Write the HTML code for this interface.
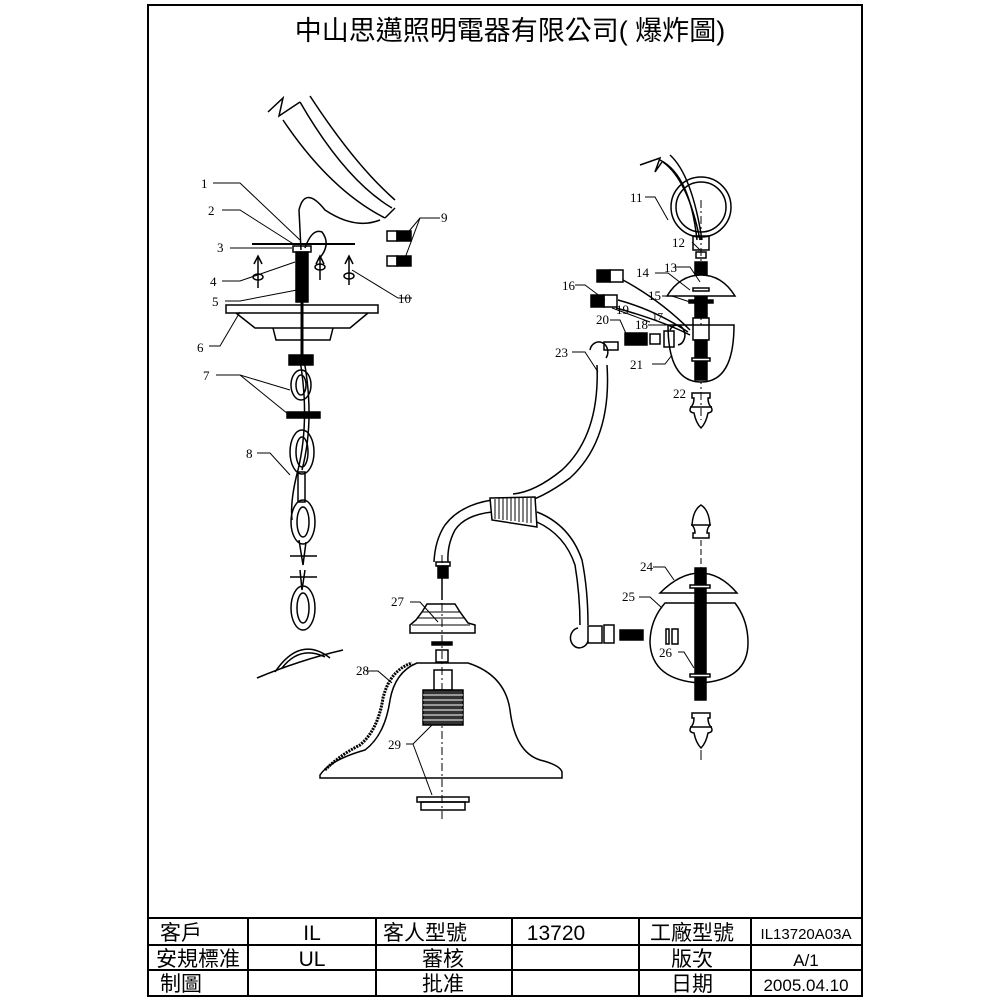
<!DOCTYPE html>
<html><head><meta charset="utf-8"><style>
html,body{margin:0;padding:0;background:#fff;}
svg{display:block;}
.t{font-family:"Liberation Serif","Noto Serif CJK SC",serif;font-size:13px;fill:#000;}
.c{font-family:"Liberation Sans","Noto Sans CJK TC",sans-serif;fill:#000;}
</style></head><body>
<svg width="1000" height="1000" viewBox="0 0 1000 1000" xmlns="http://www.w3.org/2000/svg" fill="none" stroke="#000" stroke-width="1.5">
<rect x="148" y="5" width="714" height="991" stroke-width="2"/>
<text x="510" y="40" text-anchor="middle" class="c" font-size="27" stroke="none">中山思邁照明電器有限公司( 爆炸圖)</text>
<!-- table -->
<g stroke-width="2">
<line x1="148" y1="918" x2="862" y2="918"/>
<line x1="148" y1="945" x2="862" y2="945"/>
<line x1="148" y1="970" x2="862" y2="970"/>
<line x1="248" y1="918" x2="248" y2="996"/>
<line x1="376" y1="918" x2="376" y2="996"/>
<line x1="512" y1="918" x2="512" y2="996"/>
<line x1="639" y1="918" x2="639" y2="996"/>
<line x1="751" y1="918" x2="751" y2="996"/>
</g>
<g class="c" font-size="21" stroke="none" text-anchor="middle">
<text x="181" y="940">客戶</text><text x="312" y="940">IL</text><text x="425" y="940">客人型號</text><text x="556" y="940">13720</text><text x="692" y="940">工廠型號</text>
<text x="806" y="939" font-size="15">IL13720A03A</text>
<text x="198" y="966">安規標准</text><text x="312" y="966">UL</text><text x="443" y="966">審核</text><text x="692" y="966">版次</text><text x="806" y="966" font-size="17">A/1</text>
<text x="181" y="991">制圖</text><text x="443" y="991">批准</text><text x="692" y="991">日期</text><text x="806" y="991" font-size="17">2005.04.10</text>
</g>

<!-- LEFT assembly -->
<path d="M268,112 L283,98 L279,116 L300,102"/>
<path d="M283,120 Q330,190 385,218"/>
<path d="M300,102 Q345,180 392,208"/>
<path d="M310,96 Q355,165 395,200"/>
<path d="M385,218 L395,208"/>
<path d="M301,250 L299,210 Q305,185 325,210 Q355,230 380,220"/>
<path d="M305,248 Q312,228 322,232 Q332,245 318,260"/>
<line x1="252" y1="244" x2="355" y2="244" stroke-width="2"/>
<rect x="293" y="246" width="18" height="6"/>
<rect x="296" y="252" width="12" height="50" fill="#000"/>
<line x1="302" y1="302" x2="302" y2="360" stroke-width="3"/>
<rect x="226" y="305" width="152" height="8"/>
<path d="M236,313 L255,328 L350,328 L368,313"/>
<path d="M273,328 L276,340 L330,340 L333,328"/>
<g>
<line x1="258" y1="258" x2="258" y2="288"/><path d="M254,264 L258,256 L262,264"/><ellipse cx="258" cy="277" rx="5" ry="3"/>
<line x1="320" y1="258" x2="320" y2="280"/><path d="M316,264 L320,256 L324,264"/><ellipse cx="320" cy="267" rx="5" ry="3"/>
<line x1="349" y1="258" x2="349" y2="285"/><path d="M345,264 L349,256 L353,264"/><ellipse cx="349" cy="276" rx="5" ry="3"/>
</g>
<rect x="387" y="231" width="10" height="10"/><rect x="397" y="231" width="14" height="10" fill="#000"/>
<rect x="387" y="256" width="10" height="10"/><rect x="397" y="256" width="14" height="10" fill="#000"/>
<rect x="289" y="355" width="24" height="10" fill="#000"/>
<ellipse cx="301" cy="385" rx="10" ry="15"/><ellipse cx="301" cy="385" rx="5" ry="10"/>
<rect x="287" y="412" width="33" height="6" fill="#000"/>
<path d="M300,360 Q310,420 298,470 Q290,500 292,520"/>
<path d="M304,360 Q315,420 302,470"/>
<ellipse cx="302" cy="452" rx="12" ry="22"/><ellipse cx="302" cy="452" rx="6" ry="15"/>
<rect x="298" y="472" width="7" height="30"/>
<ellipse cx="303" cy="522" rx="12" ry="22"/><ellipse cx="303" cy="522" rx="6" ry="15"/>
<path d="M299,540 L303,565 L306,542"/>
<line x1="290" y1="556" x2="317" y2="556"/><line x1="290" y1="577" x2="317" y2="577"/>
<path d="M300,570 L302,590 L305,570"/>
<ellipse cx="303" cy="608" rx="12" ry="22"/><ellipse cx="303" cy="608" rx="6" ry="15"/>
<path d="M257,678 Q300,660 343,650"/>
<path d="M275,672 Q300,635 330,658"/>
<path d="M282,668 Q300,645 325,657"/>
<g stroke-width="1">
<polyline points="213,183 240,183 300,240"/>
<polyline points="222,210 240,210 295,245"/>
<polyline points="230,248 292,248"/>
<polyline points="222,281 240,281 295,262"/>
<polyline points="225,301 240,301 297,290"/>
<polyline points="209,346 220,346 240,312"/>
<polyline points="216,375 240,375 290,390"/><line x1="240" y1="375" x2="288" y2="414"/>
<polyline points="257,453 270,453 290,475"/>
<polyline points="412,298 398,298 352,270"/>
<polyline points="440,218 420,218 405,236"/><line x1="420" y1="218" x2="405" y2="258"/>
</g>
<g class="t" stroke="none">
<text x="201" y="188">1</text><text x="208" y="215">2</text><text x="217" y="252">3</text><text x="210" y="286">4</text><text x="212" y="306">5</text><text x="197" y="352">6</text><text x="203" y="380">7</text><text x="246" y="458">8</text><text x="441" y="222">9</text><text x="398" y="303">10</text>
</g>

<!-- CENTER arm -->
<path d="M607,365 Q612,440 570,478 Q540,500 520,503"/>
<path d="M597,365 Q600,435 562,470 Q535,492 513,494"/>
<path d="M590,350 a9,10 0 1,1 16,8"/>
<rect x="604" y="342" width="14" height="8"/>
<path d="M492,500 Q460,505 445,525 Q435,540 434,562"/>
<path d="M492,512 Q465,515 455,530 Q447,545 448,562"/>
<path d="M490,498 L535,497 L537,527 L492,520 Z" fill="#fff"/>
<g stroke-width="1"><path d="M495,499 v20 M499,498 v21 M503,498 v22 M507,498 v22 M511,498 v23 M515,498 v23 M519,498 v24 M523,498 v24 M527,498 v25 M531,498 v25"/></g>
<path d="M537,512 Q570,525 582,560 Q588,590 588,625"/>
<path d="M537,522 Q565,535 575,565 Q580,595 580,625"/>
<path d="M578,628 a9,10 0 1,0 10,13"/>
<rect x="588" y="626" width="14" height="17"/>
<rect x="604" y="625" width="10" height="18"/>
<rect x="436" y="562" width="14" height="4"/>
<rect x="438" y="566" width="10" height="12" fill="#000"/>
<line x1="442" y1="578" x2="442" y2="600"/>
<line x1="442" y1="555" x2="442" y2="820" stroke-dasharray="8,3,2,3" stroke-width="1"/>
<path d="M410,633 L475,633 L475,625 L468,623 L460,612 L455,604 L427,604 L422,612 L416,620 L410,625 Z"/>
<g stroke-width="1"><path d="M422,612 H460 M417,618 H465 M412,625 H470"/></g>
<rect x="432" y="642" width="20" height="3" fill="#000"/>
<rect x="436" y="650" width="12" height="12"/>
<path d="M320,775 Q330,760 365,750 Q385,735 390,700 Q395,672 417,663 L468,663 Q505,675 510,710 Q515,752 540,760 Q560,765 562,772 L562,778 L320,778 Z"/>
<path d="M325,770 Q340,755 360,745 Q378,730 383,698 Q390,670 412,663" stroke-width="3" stroke-dasharray="2,1"/>
<rect x="434" y="670" width="18" height="20"/>
<rect x="423" y="690" width="40" height="35" fill="#333"/>
<g stroke="#fff" stroke-width="1"><path d="M423,695 H463 M423,700 H463 M423,705 H463 M423,710 H463 M423,715 H463 M423,720 H463"/></g>
<rect x="417" y="797" width="52" height="5"/>
<rect x="421" y="802" width="44" height="8"/>
<g stroke-width="1">
<polyline points="410,602 420,602 438,622"/>
<polyline points="366,671 378,671 392,683"/>
<polyline points="406,744 413,744 432,725"/><line x1="413" y1="744" x2="432" y2="795"/>
<polyline points="572,352 585,352 598,372"/>
</g>
<g class="t" stroke="none">
<text x="391" y="606">27</text><text x="356" y="675">28</text><text x="388" y="749">29</text><text x="555" y="357">23</text>
</g>

<!-- RIGHT assembly -->
<path d="M640,165 L660,158 L655,172 L662,162"/>
<path d="M660,160 Q690,175 697,240"/>
<path d="M663,162 Q688,180 700,240"/>
<path d="M670,155 Q692,175 702,240"/>
<circle cx="701" cy="207" r="30"/><circle cx="701" cy="207" r="25"/>
<line x1="701" y1="200" x2="701" y2="420" stroke-dasharray="8,3,2,3" stroke-width="1"/>
<rect x="693" y="236" width="16" height="14"/>
<rect x="696" y="252" width="10" height="6"/>
<rect x="695" y="262" width="12" height="55" fill="#000"/>
<path d="M667,296 Q680,275 701,275 Q722,275 735,296 Z" fill="#fff"/>
<rect x="693" y="288" width="16" height="3" fill="#fff"/>
<rect x="689" y="300" width="24" height="3" fill="#000"/>
<path d="M668,325 Q668,382 701,382 Q734,382 734,325 Z" fill="#fff"/>
<rect x="693" y="318" width="16" height="22"/>
<rect x="695" y="340" width="12" height="40" fill="#000"/>
<rect x="692" y="358" width="18" height="3" fill="#fff"/>
<rect x="597" y="270" width="13" height="12" fill="#000"/><rect x="610" y="270" width="13" height="12"/>
<rect x="591" y="295" width="13" height="12" fill="#000"/><rect x="604" y="295" width="13" height="12"/>
<path d="M623,280 Q660,300 690,330"/><path d="M618,300 Q655,310 688,332"/>
<path d="M616,308 Q660,320 690,335"/>
<path d="M670,330 a8,10 0 1,1 8,15"/>
<rect x="625" y="333" width="22" height="12" fill="#000"/>
<rect x="650" y="334" width="10" height="10"/>
<rect x="664" y="331" width="10" height="16"/>
<!-- finials (acorn) -->
<g>
<path d="M692,393 h18 v5 h-2 q0,6 3,9 q3,5 -3,6 q-2,10 -7,15 q-5,-5 -7,-15 q-6,-1 -3,-6 q3,-3 3,-9 h-2 z"/>
<line x1="690" y1="407" x2="712" y2="407"/>
<path d="M693,538 h16 v-5 h-2 q0,-5 3,-8 q-1,-15 -9,-20 q-8,5 -9,20 q3,3 3,8 h-2 z"/>
<line x1="691" y1="525" x2="711" y2="525"/>
<path d="M692,713 h18 v5 h-2 q0,6 3,9 q3,5 -3,6 q-2,10 -7,15 q-5,-5 -7,-15 q-6,-1 -3,-6 q3,-3 3,-9 h-2 z"/>
<line x1="690" y1="727" x2="712" y2="727"/>
</g>
<line x1="701" y1="540" x2="701" y2="568" stroke-dasharray="6,3" stroke-width="1"/>
<line x1="701" y1="750" x2="701" y2="760" stroke-width="1"/>
<path d="M660,593 Q680,573 700,573 Q720,573 737,593 Z" fill="#fff"/>
<path d="M665,603 Q650,620 650,643 Q652,680 700,683 Q748,680 748,643 Q748,620 735,603 Z" fill="#fff"/>
<rect x="695" y="568" width="11" height="132" fill="#000"/>
<rect x="690" y="585" width="20" height="3" fill="#fff"/>
<rect x="690" y="674" width="20" height="3" fill="#fff"/>
<rect x="620" y="630" width="23" height="10" fill="#000"/>
<rect x="666" y="629" width="3" height="15"/><rect x="672" y="629" width="6" height="15"/>
<g stroke-width="1">
<polyline points="645,197 655,197 668,220"/>
<polyline points="692,242 700,250"/>
<polyline points="675,267 690,267 700,282"/>
<polyline points="655,273 668,273 690,290"/>
<polyline points="662,296 672,296 690,302"/>
<polyline points="575,285 585,285 605,300"/>
<polyline points="612,308 650,322"/>
<polyline points="648,325 672,325"/>
<polyline points="610,320 620,320 628,338"/>
<polyline points="652,364 665,364 672,355"/>
<polyline points="692,393 698,393"/>
<polyline points="653,567 665,567 674,580"/>
<polyline points="639,597 650,597 662,608"/>
<polyline points="678,652 684,652 694,668"/>
</g>
<g class="t" stroke="none">
<text x="630" y="202">11</text><text x="672" y="247">12</text><text x="664" y="272">13</text><text x="636" y="277">14</text><text x="648" y="300">15</text><text x="562" y="290">16</text>
<text x="652" y="320" font-size="11">17</text><text x="616" y="314">19</text><text x="635" y="329">18</text><text x="596" y="324">20</text><text x="630" y="369">21</text><text x="673" y="398">22</text>
<text x="640" y="571">24</text><text x="622" y="601">25</text><text x="659" y="657">26</text>
</g>
</svg>
</body></html>
